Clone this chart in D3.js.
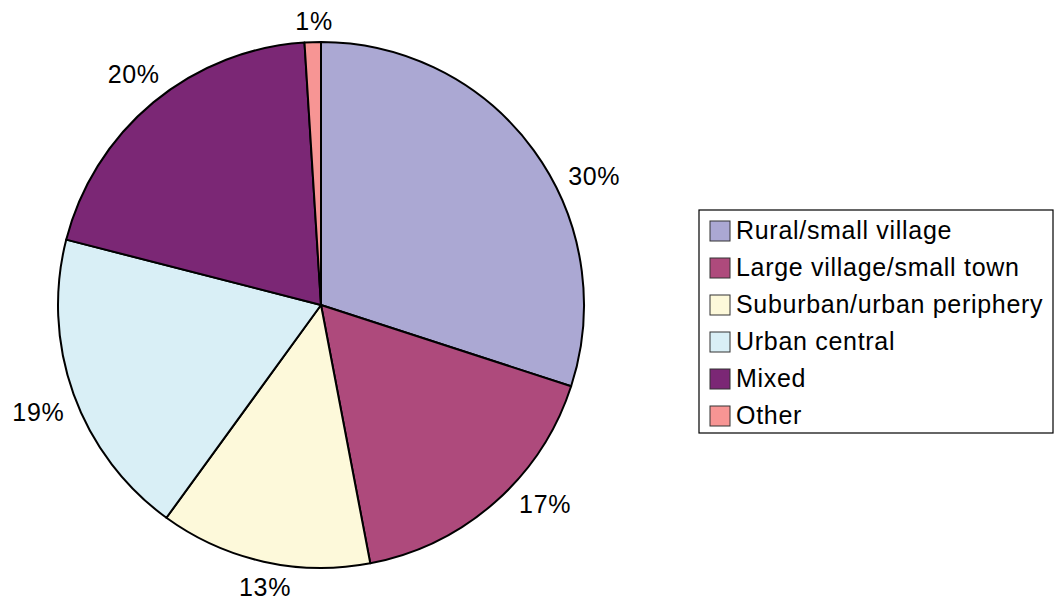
<!DOCTYPE html>
<html>
<head>
<meta charset="utf-8">
<script src="https://cdn.jsdelivr.net/npm/d3@7"></script>
<style>
  body { margin: 0; background: #fff; }
  svg text { font-family: "Liberation Sans", Arial, sans-serif; fill: #000; letter-spacing: 0.7px; }
</style>
</head>
<body>
<svg id="chart" width="1057" height="600"></svg>
<script>
// data
const categories = ['Rural/small village', 'Large village/small town', 'Suburban/urban periphery', 'Urban central', 'Mixed', 'Other'];
const shares = [30, 17, 13, 19, 20, 1];
const labels = ['30%', '17%', '13%', '19%', '20%', '1%'];
const colors = ['#aba8d3', '#ae4a7c', '#fdf9da', '#d9eff6', '#7b2775', '#f79594'];
// label placement tweak (degrees), some labels were nudged away from mid-angle
const labelShift = [10.8, -7, -1.4, -0.9, 0.6, 0.4];

const cx = 321, cy = 305, radius = 263;
const fontSize = 25;

const svg = d3.select('#chart');

const pie = d3.pie().sort(null).value(d => d)
  .startAngle(0).endAngle(2 * Math.PI);
const arcs = pie(shares);

const arc = d3.arc().innerRadius(0).outerRadius(radius);

const g = svg.append('g').attr('transform', `translate(${cx},${cy})`);

g.selectAll('path')
  .data(arcs)
  .join('path')
    .attr('d', arc)
    .attr('fill', (d, i) => colors[i])
    .attr('stroke', '#000')
    .attr('stroke-width', 2)
    .attr('stroke-linejoin', 'round');

// labels outside the pie
const halfW = 26, halfH = 8, pad = 12;
g.selectAll('text.lbl')
  .data(arcs)
  .join('text')
    .attr('class', 'lbl')
    .attr('text-anchor', 'middle')
    .attr('dominant-baseline', 'central')
    .style('font-size', fontSize + 'px')
    .attr('transform', (d, i) => {
      const a = (d.startAngle + d.endAngle) / 2 + labelShift[i] * Math.PI / 180;
      const s = Math.sin(a), c = Math.cos(a);
      const dist = radius + pad + Math.abs(s) * halfW + Math.abs(c) * halfH;
      return `translate(${s * dist},${-c * dist})`;
    })
    .text((d, i) => labels[i]);

// legend
const lx = 699, ly = 210, lw = 354, lh = 223, rowH = 37;
const legend = svg.append('g');
legend.append('rect')
  .attr('x', lx).attr('y', ly)
  .attr('width', lw).attr('height', lh)
  .attr('fill', '#fff')
  .attr('stroke', '#000')
  .attr('stroke-width', 1.2);

const rows = legend.selectAll('g.row')
  .data(categories)
  .join('g')
    .attr('class', 'row')
    .attr('transform', (d, i) => `translate(${lx + 11},${ly + 11 + i * rowH})`);

rows.append('rect')
  .attr('width', 20).attr('height', 20)
  .attr('fill', (d, i) => colors[i])
  .attr('stroke', '#333')
  .attr('stroke-width', 1);

rows.append('text')
  .attr('x', 26)
  .attr('y', 18)
  .style('font-size', fontSize + 'px')
  .text(d => d);
</script>
</body>
</html>
